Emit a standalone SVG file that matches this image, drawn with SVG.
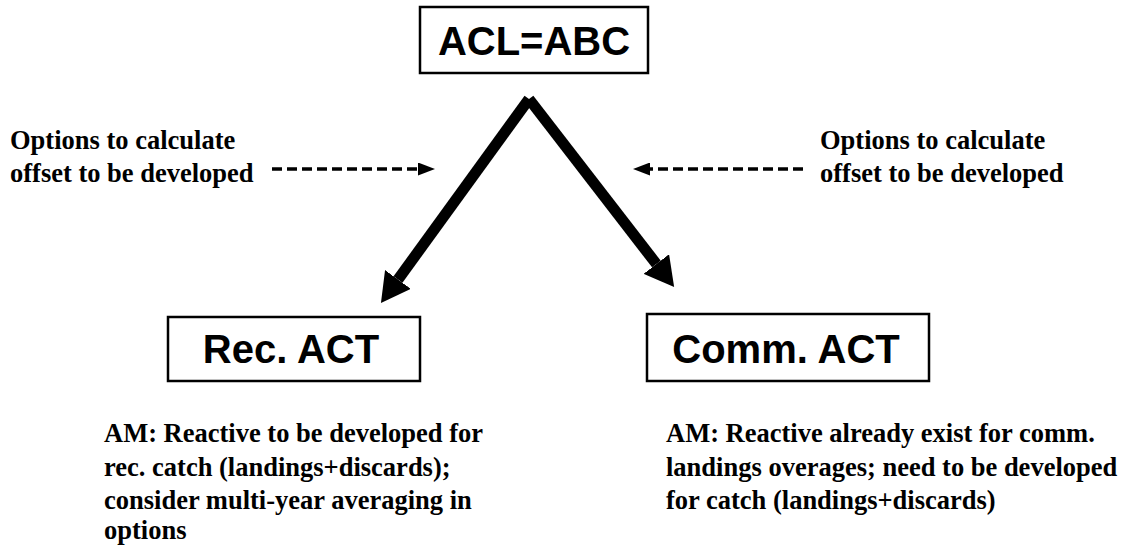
<svg xmlns="http://www.w3.org/2000/svg" width="1125" height="546" viewBox="0 0 1125 546">
<style>
.box{fill:#fff;stroke:#000;stroke-width:2.5}
.title{font-family:"Liberation Sans",Arial,sans-serif;font-weight:bold;font-size:40px;fill:#000}
.note{font-family:"Liberation Serif","Times New Roman",serif;font-weight:bold;font-size:26.5px;fill:#000}
.thick{stroke:#000;stroke-width:11;fill:none}
.dash{stroke:#000;stroke-width:3.5;stroke-dasharray:10 5;fill:none}
</style>
<defs>
<marker id="big" markerUnits="userSpaceOnUse" viewBox="0 -16 29 32" refX="0" refY="0" markerWidth="29" markerHeight="32" orient="auto">
<path d="M0,-16 L29,0 L0,16 z" fill="#000"/>
</marker>
<marker id="small" markerUnits="userSpaceOnUse" viewBox="0 -6.5 17 13" refX="0" refY="0" markerWidth="17" markerHeight="13" orient="auto">
<path d="M0,-6.5 L17,0 L0,6.5 z" fill="#000"/>
</marker>
</defs>
<rect width="1125" height="546" fill="#fff"/>
<g id="connectors">
<line class="thick" x1="529" y1="99" x2="398" y2="279.5" marker-end="url(#big)"/>
<line class="thick" x1="529" y1="99" x2="656.4" y2="264" marker-end="url(#big)"/>
<line class="dash" x1="272" y1="169" x2="418" y2="169" marker-end="url(#small)"/>
<line class="dash" x1="803" y1="169" x2="650" y2="169" marker-end="url(#small)"/>
</g>
<g id="acl">
<rect class="box" x="420" y="7" width="228" height="66"/>
<text class="title" x="534" y="55" text-anchor="middle">ACL=ABC</text>
</g>
<g id="rec">
<rect class="box" x="168" y="317" width="252" height="64"/>
<text class="title" x="291" y="363" text-anchor="middle">Rec. ACT</text>
</g>
<g id="comm">
<rect class="box" x="647" y="314" width="282" height="67"/>
<text class="title" x="786" y="363" text-anchor="middle">Comm. ACT</text>
</g>
<g id="opt-left">
<text class="note" x="10" y="149">Options to calculate</text>
<text class="note" x="10" y="182">offset to be developed</text>
</g>
<g id="opt-right">
<text class="note" x="820" y="149">Options to calculate</text>
<text class="note" x="820" y="182">offset to be developed</text>
</g>
<g id="am-rec">
<text class="note" x="104" y="442">AM: Reactive to be developed for</text>
<text class="note" x="104" y="476">rec. catch (landings+discards);</text>
<text class="note" x="104" y="509">consider multi-year averaging in</text>
<text class="note" x="104" y="539">options</text>
</g>
<g id="am-comm">
<text class="note" x="666" y="442">AM: Reactive already exist for comm.</text>
<text class="note" x="666" y="476">landings overages; need to be developed</text>
<text class="note" x="666" y="509">for catch (landings+discards)</text>
</g>
</svg>
